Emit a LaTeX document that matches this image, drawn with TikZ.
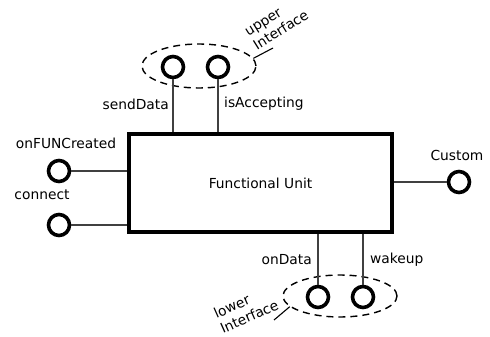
\documentclass[tikz,border=0pt]{standalone}
\usepackage{fontspec}
\setmainfont{DejaVu Sans}
\usetikzlibrary{shapes.geometric}
\begin{document}
\begin{tikzpicture}[x=1pt,y=-1pt,
  port/.style={circle,draw,line width=3.6pt,minimum size=21pt,inner sep=0pt},
  unitbox/.style={rectangle,draw,line width=3.6pt,minimum width=263pt,minimum height=98pt,inner sep=0pt},
  conn/.style={draw=black!75,line width=1.1pt},
  grp/.style={ellipse,draw,dashed,dash pattern=on 7pt off 5pt,line width=1.4pt,inner sep=0pt},
  lbl/.style={inner sep=0pt,font=\fontsize{13.8}{16.5}\selectfont},
  leader/.style={draw,line width=1.1pt}]
\useasboundingbox (0,0) rectangle (490,337);
\node[unitbox] (fu) at (260.5,183) {};
\node[lbl] (fut) at (fu.center) {Functional Unit};
% upper interface
\node[grp,minimum width=114pt,minimum height=44pt] (ue) at (199,66) {};
\node[port] (sd) at (173,67) {};
\node[port] (ia) at (218,67) {};
\draw[conn] (sd) -- (sd |- fu.north);
\draw[conn] (ia) -- (ia |- fu.north);
\node[lbl,anchor=east] (sdl) at (169,104) {sendData};
\node[lbl,anchor=west] (ial) at (224,104) {isAccepting};
\node[lbl,align=left,rotate=32] (uel) at (277,24) {upper\\ Interface};
\coordinate (uend) at (273,48);
\draw[leader] (ue.8) -- (uend);
% left ports
\node[port] (ofc) at (59,171) {};
\node[port] (con) at (59,225) {};
\draw[conn] (ofc) -- (ofc -| fu.west);
\draw[conn] (con) -- (con -| fu.west);
\node[lbl] (ofcl) at (66,143) {onFUNCreated};
\node[lbl] (conl) at (42,195) {connect};
% right port
\node[port] (cus) at (459,182) {};
\draw[conn] (cus) -- (cus -| fu.east);
\node[lbl] (cusl) at (457,155) {Custom};
% lower interface
\node[grp,minimum width=114pt,minimum height=42pt] (le) at (340,296) {};
\node[port] (od) at (318,297) {};
\node[port] (wu) at (363,297) {};
\draw[conn] (od) -- (od |- fu.south);
\draw[conn] (wu) -- (wu |- fu.south);
\node[lbl,anchor=east] (odl) at (312,260) {onData};
\node[lbl,anchor=west] (wul) at (370,260) {wakeup};
\node[lbl,align=left,rotate=24] (lel) at (246,309) {lower\\ Interface};
\coordinate (lend) at (274,320);
\draw[leader] (le.192) -- (lend);
\end{tikzpicture}
\end{document}
